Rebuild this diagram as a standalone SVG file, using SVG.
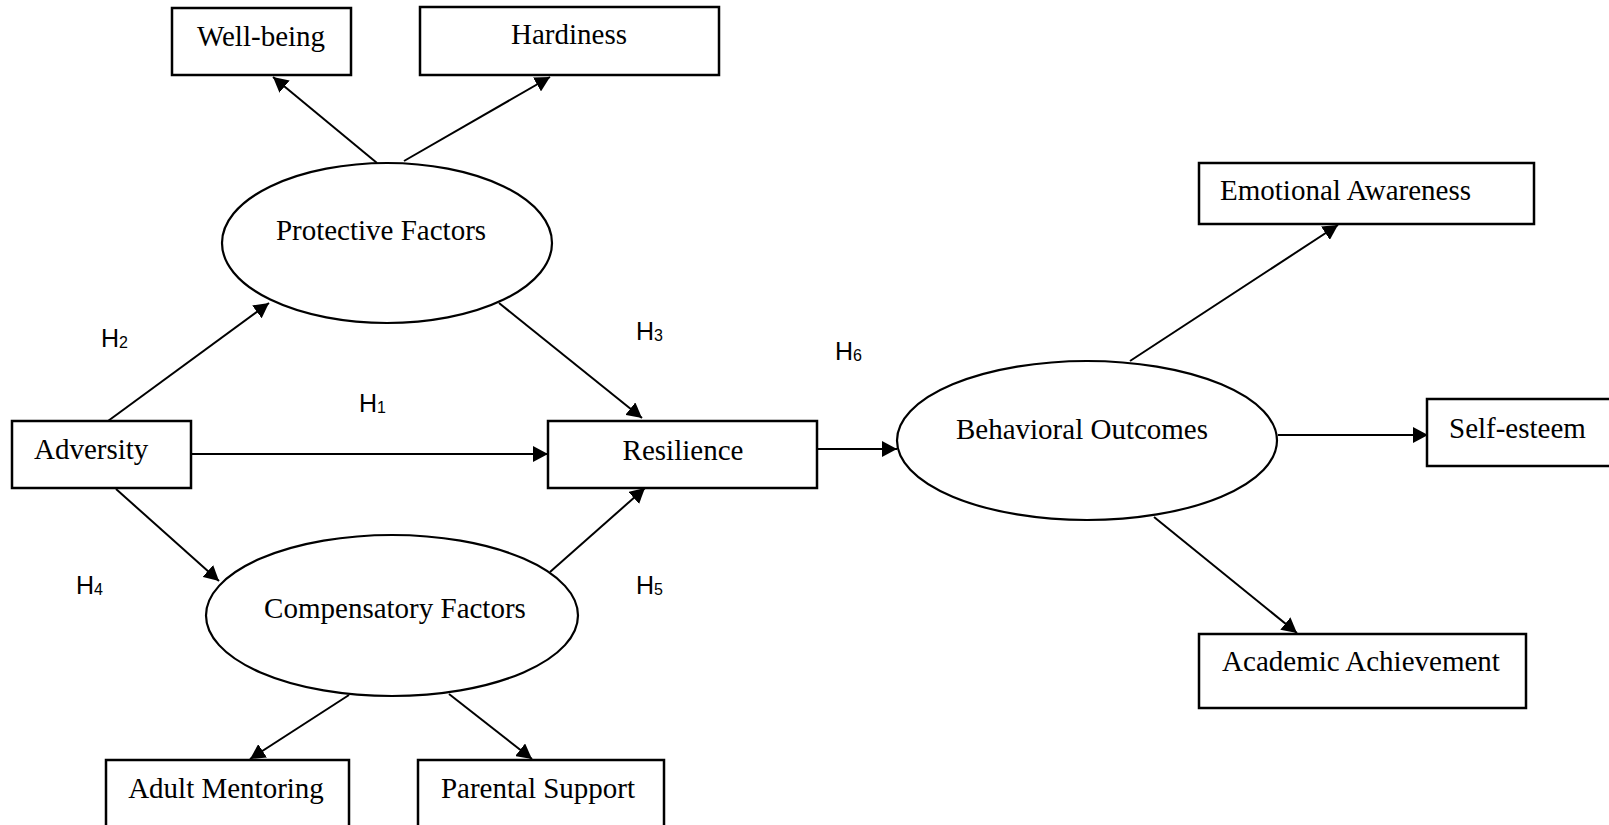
<svg xmlns="http://www.w3.org/2000/svg" width="1609" height="825" viewBox="0 0 1609 825">
  <style>
    .box { fill: #ffffff; stroke: #000000; stroke-width: 2.5; }
    .oval { fill: #ffffff; stroke: #000000; stroke-width: 2.2; }
    .lbl { font-family: "Liberation Serif", "Times New Roman", serif; font-size: 29px; fill: #000000; }
    .mid { text-anchor: middle; }
    .hyp { font-family: "Liberation Sans", Arial, sans-serif; font-size: 25px; fill: #000000; }
    .sub { font-size: 16px; }
    .edge { fill: none; stroke: #000000; stroke-width: 2; marker-end: url(#arrow); }
  </style>
  <defs>
    <marker id="arrow" markerUnits="userSpaceOnUse" markerWidth="16" markerHeight="16" refX="15" refY="8" orient="auto">
      <path d="M0,0 L15,8 L0,16 Z" fill="#000000"/>
    </marker>
  </defs>
  <rect width="1609" height="825" fill="#ffffff"/>

  <g id="connectors">
    <line class="edge" x1="191" y1="454" x2="548" y2="454"/>
    <line class="edge" x1="108" y1="421" x2="269" y2="303"/>
    <line class="edge" x1="499" y1="303" x2="642" y2="418"/>
    <line class="edge" x1="116" y1="489" x2="219" y2="581"/>
    <line class="edge" x1="550" y1="572" x2="645" y2="488"/>
    <line class="edge" x1="349" y1="695" x2="250" y2="759"/>
    <line class="edge" x1="449" y1="694" x2="532" y2="759"/>
    <line class="edge" x1="377" y1="163" x2="273" y2="77"/>
    <line class="edge" x1="404" y1="161" x2="550" y2="77"/>
    <line class="edge" x1="817" y1="449" x2="897" y2="449"/>
    <line class="edge" x1="1130" y1="361" x2="1338" y2="225"/>
    <line class="edge" x1="1278" y1="435" x2="1428" y2="435"/>
    <line class="edge" x1="1154" y1="517" x2="1297" y2="633"/>
  </g>

  <g id="well-being">
    <rect class="box" x="172" y="8" width="179" height="67"/>
    <text class="lbl mid" x="261" y="46">Well-being</text>
  </g>
  <g id="hardiness">
    <rect class="box" x="420" y="7" width="299" height="68"/>
    <text class="lbl mid" x="569" y="44">Hardiness</text>
  </g>
  <g id="protective-factors">
    <ellipse class="oval" cx="387" cy="243" rx="165" ry="80"/>
    <text class="lbl mid" x="381" y="240">Protective Factors</text>
  </g>
  <g id="adversity">
    <rect class="box" x="12" y="421" width="179" height="67"/>
    <text class="lbl" x="34" y="459">Adversity</text>
  </g>
  <g id="resilience">
    <rect class="box" x="548" y="421" width="269" height="67"/>
    <text class="lbl mid" x="683" y="460">Resilience</text>
  </g>
  <g id="compensatory-factors">
    <ellipse class="oval" cx="392" cy="615.5" rx="186" ry="80.5"/>
    <text class="lbl mid" x="395" y="618">Compensatory Factors</text>
  </g>
  <g id="adult-mentoring">
    <rect class="box" x="106" y="760" width="243" height="70"/>
    <text class="lbl mid" x="226" y="798">Adult Mentoring</text>
  </g>
  <g id="parental-support">
    <rect class="box" x="418" y="760" width="246" height="70"/>
    <text class="lbl mid" x="538" y="798">Parental Support</text>
  </g>
  <g id="behavioral-outcomes">
    <ellipse class="oval" cx="1087" cy="440.5" rx="190" ry="79.5"/>
    <text class="lbl mid" x="1082" y="439">Behavioral Outcomes</text>
  </g>
  <g id="emotional-awareness">
    <rect class="box" x="1199" y="163" width="335" height="61"/>
    <text class="lbl" x="1220" y="200">Emotional Awareness</text>
  </g>
  <g id="self-esteem">
    <rect class="box" x="1427" y="399" width="190" height="67"/>
    <text class="lbl" x="1449" y="438">Self-esteem</text>
  </g>
  <g id="academic-achievement">
    <rect class="box" x="1199" y="634" width="327" height="74"/>
    <text class="lbl mid" x="1361" y="671">Academic Achievement</text>
  </g>

  <g id="hypotheses">
    <text class="hyp" x="359" y="412">H<tspan class="sub" dy="1">1</tspan></text>
    <text class="hyp" x="101" y="347">H<tspan class="sub" dy="1">2</tspan></text>
    <text class="hyp" x="636" y="340">H<tspan class="sub" dy="1">3</tspan></text>
    <text class="hyp" x="76" y="594">H<tspan class="sub" dy="1">4</tspan></text>
    <text class="hyp" x="636" y="594">H<tspan class="sub" dy="1">5</tspan></text>
    <text class="hyp" x="835" y="360">H<tspan class="sub" dy="1">6</tspan></text>
  </g>
</svg>
